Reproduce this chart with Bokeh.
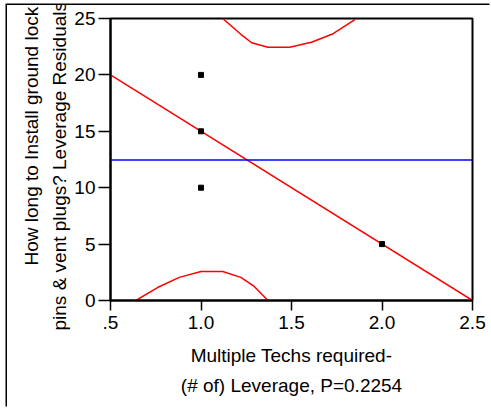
from bokeh.plotting import figure
from bokeh.models import Range1d, FixedTicker, Title
from bokeh.embed import file_html
from bokeh.resources import INLINE

# ---- data ----
pts_x = [1.0, 1.0, 1.0, 2.0]
pts_y = [20.0, 15.0, 10.0, 5.0]

fit_x = [0.5, 2.5]
fit_y = [20.0, 0.0]

mean_y = 12.45

upper_x = [1.12, 1.22, 1.28, 1.37, 1.49, 1.61, 1.73, 1.85]
upper_y = [25.0, 23.6, 22.85, 22.45, 22.45, 22.9, 23.65, 24.9]

lower_x = [0.64, 0.76, 0.88, 1.0, 1.12, 1.22, 1.29, 1.37]
lower_y = [0.0, 1.15, 2.05, 2.57, 2.57, 2.05, 1.3, 0.0]

x_ticks = [0.5, 1.0, 1.5, 2.0, 2.5]
x_tick_labels = [".5", "1.0", "1.5", "2.0", "2.5"]
y_ticks = [0, 5, 10, 15, 20, 25]

y_label_1 = "How long to Install ground lock"
y_label_2 = "pins & vent plugs? Leverage Residuals"
x_label_1 = "Multiple Techs required-"
x_label_2 = "(# of) Leverage, P=0.2254"

FONT = "Liberation Sans"
FS = "19px"

p = figure(width=484, height=403, x_range=Range1d(0.5, 2.5), y_range=Range1d(0, 25),
           output_backend="svg", toolbar_location=None,
           min_border_left=103, min_border_right=19, min_border_top=13, min_border_bottom=108)
p.styles = {"margin-left": "7px", "margin-top": "5px", "box-shadow": "-1.5px -1.5px 0px 0px black"}
p.background_fill_color = "white"
p.border_fill_color = "white"
p.grid.visible = False
p.outline_line_color = "black"
p.outline_line_width = 2
p.outline_line_alpha = 1

for ax in (p.xaxis[0], p.yaxis[0]):
    ax.axis_line_color = "black"
    ax.axis_line_width = 2
    ax.major_tick_line_color = "black"
    ax.major_tick_line_width = 1.5
    ax.major_tick_in = 0
    ax.minor_tick_line_color = None
    ax.major_label_text_font = FONT
    ax.major_label_text_font_size = FS
    ax.major_label_text_color = "black"

xa = p.xaxis[0]
xa.ticker = FixedTicker(ticks=x_ticks)
xa.major_label_overrides = {t: s for t, s in zip(x_ticks, x_tick_labels)}
xa.major_tick_out = 10
xa.major_label_standoff = 5
xa.axis_label = x_label_1
xa.axis_label_text_font = FONT
xa.axis_label_text_font_size = FS
xa.axis_label_text_font_style = "normal"
xa.axis_label_text_color = "black"
xa.axis_label_standoff = 13

ya = p.yaxis[0]
ya.ticker = FixedTicker(ticks=y_ticks)
ya.major_tick_out = 12
ya.major_label_standoff = 3

# glyphs
p.line(fit_x, fit_y, line_color="#ff0000", line_width=1.5)
p.line(upper_x, upper_y, line_color="#ff0000", line_width=1.5)
p.line(lower_x, lower_y, line_color="#ff0000", line_width=1.5)
p.line([0.5, 2.5], [mean_y, mean_y], line_color="#0000ff", line_width=1.5)
p.scatter(pts_x, pts_y, marker="square", size=5, fill_color="black", line_color="black")

# remaining axis-title lines as titles in the side panels
def ttl(text, align, offset, standoff):
    return Title(text=text, align=align, offset=offset, standoff=standoff,
                 text_font=FONT, text_font_size=FS, text_font_style="normal",
                 text_color="black")

p.add_layout(ttl(y_label_2, "left", -30, 4), "left")
p.add_layout(ttl(y_label_1, "left", 35, 6), "left")
p.add_layout(ttl(x_label_2, "center", 0, 8), "below")

open("out.html", "w").write(file_html(p, INLINE))
